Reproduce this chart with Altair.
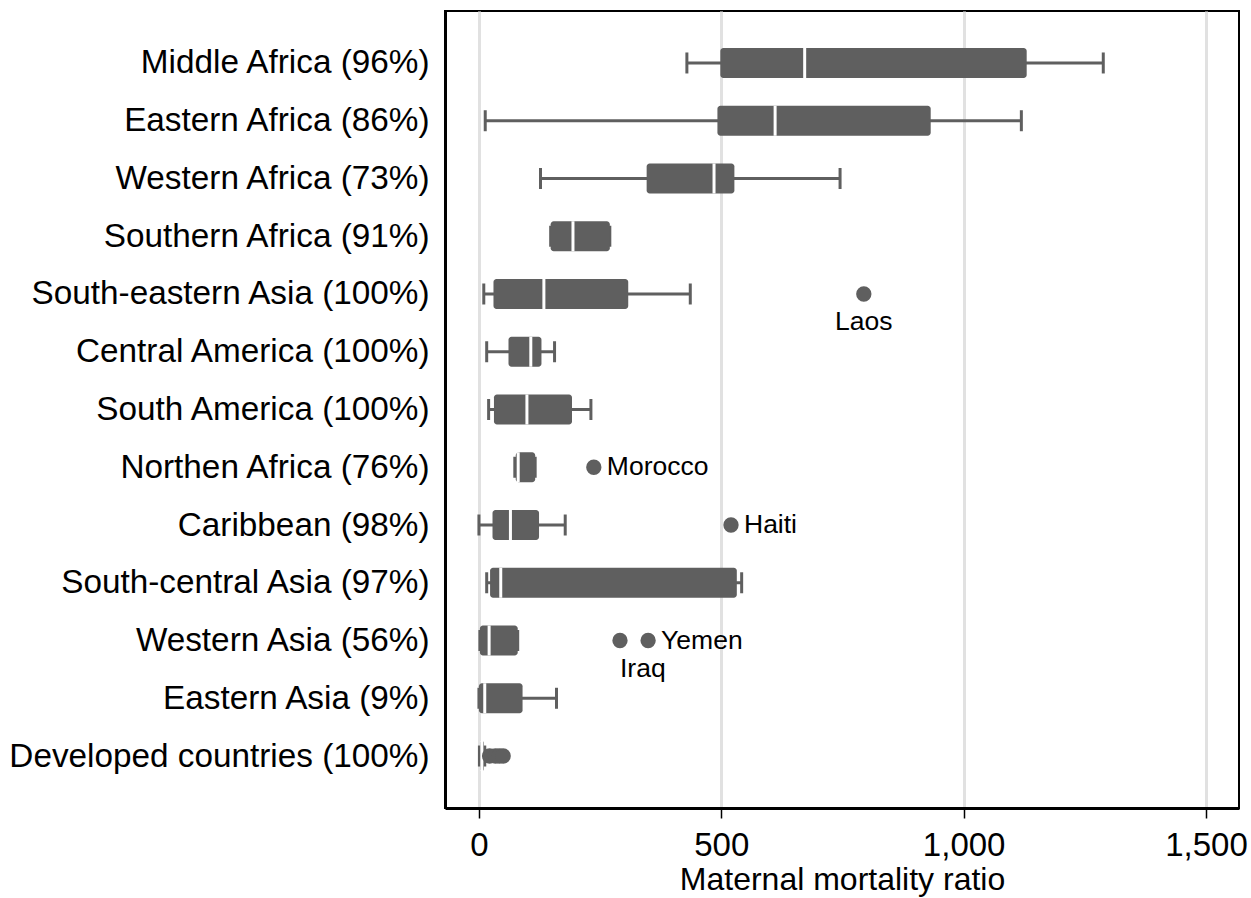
import altair as alt
import pandas as pd

# Box-plot summaries of the maternal mortality ratio by region
regions = [
    "Middle Africa (96%)",
    "Eastern Africa (86%)",
    "Western Africa (73%)",
    "Southern Africa (91%)",
    "South-eastern Asia (100%)",
    "Central America (100%)",
    "South America (100%)",
    "Northen Africa (76%)",
    "Caribbean (98%)",
    "South-central Asia (97%)",
    "Western Asia (56%)",
    "Eastern Asia (9%)",
    "Developed countries (100%)",
]
lower = [429, 13, 127, 148, 10, 16, 20, 74, 0, 16, 2, 0, 1]
q1 = [498, 492, 346, 148, 30, 61, 31, 76, 28, 23, 2, 0, 3]
median = [672, 611, 485, 194, 134, 107, 99, 81, 65, 45, 21, 12, 6]
q3 = [1130, 932, 527, 270, 308, 129, 192, 116, 124, 532, 80, 90, 10]
upper = [1288, 1119, 745, 270, 436, 156, 231, 116, 178, 542, 80, 160, 12]

# Outlying countries
out_region = [
    "South-eastern Asia (100%)",
    "Northen Africa (76%)",
    "Caribbean (98%)",
    "Western Asia (56%)",
    "Western Asia (56%)",
    "Developed countries (100%)",
    "Developed countries (100%)",
    "Developed countries (100%)",
    "Developed countries (100%)",
]
out_value = [794, 237, 520, 291, 349, 22, 34, 42, 50]
out_label = ["Laos", "Morocco", "Haiti", "Iraq", "Yemen", "", "", "", ""]
out_pos = ["below", "right", "right", "below-left", "right", "", "", "", ""]

ticks_x = [0, 500, 1000, 1500]

GRAY = "#5f5f5f"
FONT = "Liberation Sans"

boxes = pd.DataFrame({
    "region": regions, "lower": lower, "q1": q1,
    "median": median, "q3": q3, "upper": upper,
})
outs = pd.DataFrame({
    "region": out_region, "value": out_value,
    "label": out_label, "pos": out_pos,
})

x_scale = alt.Scale(domain=[-70, 1568], nice=False, zero=False)
y_scale = alt.Scale(type="point", padding=0.9)

y_enc = alt.Y(
    "region:N", sort=regions, scale=y_scale,
    axis=alt.Axis(
        title=None, ticks=False, grid=False, labelFontSize=33.3,
        labelFont=FONT, labelColor="black", labelPadding=16,
        domainColor="black", domainWidth=3, labelLimit=600,
    ),
)
x_axis = alt.Axis(
    values=ticks_x, format=",d", title="Maternal mortality ratio",
    titleFontSize=32, titleFont=FONT, titleFontWeight="normal",
    titleColor="black", titlePadding=2,
    labelFontSize=33, labelFont=FONT, labelColor="black", labelPadding=11,
    grid=True, gridColor="#e1e1e1", gridWidth=3,
    tickColor="black", tickWidth=1.5, tickSize=10,
    domainColor="black", domainWidth=3, labelFlush=False,
)

base = alt.Chart(boxes)
y_plain = alt.Y("region:N", sort=regions, scale=y_scale)

whiskers = base.mark_rule(color=GRAY, strokeWidth=3).encode(
    x=alt.X("lower:Q", scale=x_scale, axis=x_axis),
    x2="upper:Q",
    y=y_enc,
)
cap_lo = base.mark_tick(color=GRAY, thickness=3, size=21, opacity=1).encode(
    x=alt.X("lower:Q", scale=x_scale), y=y_plain
)
cap_hi = base.mark_tick(color=GRAY, thickness=3, size=21, opacity=1).encode(
    x=alt.X("upper:Q", scale=x_scale), y=y_plain
)
box = base.mark_bar(color=GRAY, size=30, cornerRadius=3, opacity=1).encode(
    x=alt.X("q1:Q", scale=x_scale), x2="q3:Q", y=y_plain,
)
med = base.mark_tick(color="white", thickness=3, size=30, opacity=1).encode(
    x=alt.X("median:Q", scale=x_scale), y=y_plain,
)

obase = alt.Chart(outs)
dots = obase.mark_point(filled=True, shape="circle", size=235, color=GRAY, opacity=1).encode(
    x=alt.X("value:Q", scale=x_scale), y=y_plain,
)
txt_kw = dict(fontSize=26.5, font=FONT, color="black")
lab_right = obase.transform_filter(alt.datum.pos == "right").mark_text(
    align="left", baseline="middle", dx=13, **txt_kw
).encode(
    x=alt.X("value:Q", scale=x_scale), y=y_plain, text="label:N",
)
lab_below = obase.transform_filter(alt.datum.pos == "below").mark_text(
    align="center", baseline="top", dy=15, **txt_kw
).encode(
    x=alt.X("value:Q", scale=x_scale), y=y_plain, text="label:N",
)
lab_below_left = obase.transform_filter(alt.datum.pos == "below-left").mark_text(
    align="left", baseline="top", dy=15, dx=0, **txt_kw
).encode(
    x=alt.X("value:Q", scale=x_scale), y=y_plain, text="label:N",
)

chart = (
    alt.layer(whiskers, cap_lo, cap_hi, box, med, dots, lab_right, lab_below, lab_below_left)
    .properties(
        width=794, height=797,
        autosize=alt.AutoSizeParams(type="none"),
        padding={"left": 445, "top": 11, "right": 12, "bottom": 90},
        background="white",
    )
    .configure_view(stroke="black", strokeWidth=2)
)

chart.save("out.html", embed_options={"renderer": "svg", "actions": False})
